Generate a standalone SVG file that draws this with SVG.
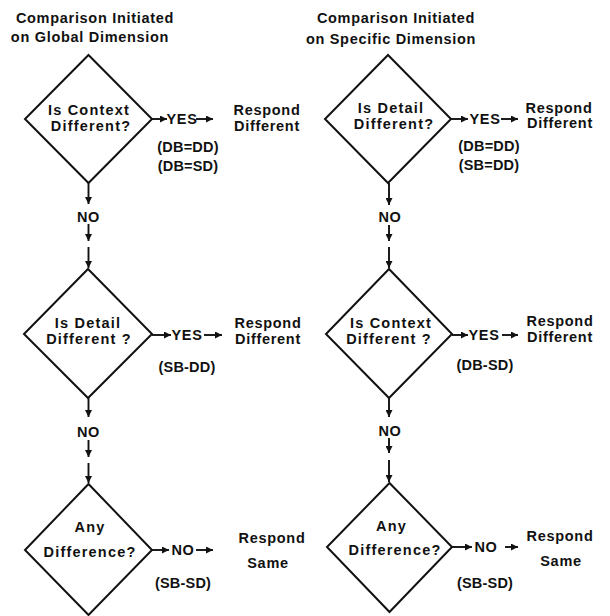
<svg xmlns="http://www.w3.org/2000/svg" width="610" height="616" viewBox="0 0 610 616">
<style>
text{font-family:"Liberation Sans",Arial,sans-serif;font-weight:bold;font-size:14.5px;fill:#111;text-anchor:middle;letter-spacing:0.7px}
.d{letter-spacing:1.2px}
.p{letter-spacing:0.2px}
.dia{fill:none;stroke:#111;stroke-width:2;stroke-linejoin:miter}
.c{fill:none;stroke:#111;stroke-width:1.9}
</style>
<defs>
<marker id="ah" markerUnits="userSpaceOnUse" markerWidth="8" markerHeight="7" refX="7" refY="3.5" orient="auto">
<path d="M0,0 L7,3.5 L0,7 Z" fill="#111"/>
</marker>
</defs>
<rect width="610" height="616" fill="#fff"/>

<g id="title-left"><text x="95" y="23">Comparison Initiated</text><text x="90" y="42">on Global Dimension</text></g>
<g id="title-right"><text x="396" y="23">Comparison Initiated</text><text x="391" y="44">on Specific Dimension</text></g>

<g id="L1"><polygon class="dia" points="88.5,55 152,119 88.5,183 25,119"/><text class="d" x="89" y="115">Is Context</text><text class="d" x="91" y="131">Different?</text></g>
<g id="L2"><polygon class="dia" points="88,269 152,334 88,398 24,334"/><text class="d" x="88" y="328">Is Detail</text><text class="d" x="89" y="344">Different ?</text></g>
<g id="L3"><polygon class="dia" points="88.5,484 152,550 88.5,615 25,550"/><text class="d" x="90" y="532">Any</text><text class="d" x="90" y="557">Difference?</text></g>

<g id="R1"><polygon class="dia" points="388,55 451,119 388,183 325,119"/><text class="d" x="391" y="113">Is Detail</text><text class="d" x="394" y="129">Different?</text></g>
<g id="R2"><polygon class="dia" points="389,269 452,334 389,398 326,334"/><text class="d" x="391" y="328">Is Context</text><text class="d" x="389" y="344">Different ?</text></g>
<g id="R3"><polygon class="dia" points="389.5,483 452,547 389.5,612 327,547"/><text class="d" x="391.5" y="531">Any</text><text class="d" x="395" y="555">Difference?</text></g>

<g id="L1-resp"><text x="267" y="115">Respond</text><text x="267" y="131">Different</text></g>
<g id="L2-resp"><text x="268" y="328">Respond</text><text x="268" y="344">Different</text></g>
<g id="L3-resp"><text x="272" y="543">Respond</text><text x="268" y="568">Same</text></g>
<g id="R1-resp"><text x="559" y="113">Respond</text><text x="560" y="128">Different</text></g>
<g id="R2-resp"><text x="560" y="326">Respond</text><text x="560" y="342">Different</text></g>
<g id="R3-resp"><text x="560" y="541">Respond</text><text x="561" y="566">Same</text></g>

<g id="connectors">
<line class="c" x1="88.5" y1="183" x2="88.5" y2="204" marker-end="url(#ah)"/>
<line class="c" x1="88.5" y1="224" x2="88.5" y2="241" marker-end="url(#ah)"/>
<line class="c" x1="88.5" y1="247" x2="88.5" y2="268" marker-end="url(#ah)"/>
<line class="c" x1="88.5" y1="398" x2="88.5" y2="417" marker-end="url(#ah)"/>
<line class="c" x1="88.5" y1="440" x2="88.5" y2="457" marker-end="url(#ah)"/>
<line class="c" x1="88.5" y1="463" x2="88.5" y2="483" marker-end="url(#ah)"/>

<line class="c" x1="389" y1="183" x2="389" y2="205" marker-end="url(#ah)"/>
<line class="c" x1="389" y1="225" x2="389" y2="241" marker-end="url(#ah)"/>
<line class="c" x1="389" y1="247" x2="389" y2="268" marker-end="url(#ah)"/>
<line class="c" x1="389" y1="398" x2="389" y2="417" marker-end="url(#ah)"/>
<line class="c" x1="389" y1="438" x2="389" y2="453" marker-end="url(#ah)"/>
<line class="c" x1="389" y1="460" x2="389" y2="482" marker-end="url(#ah)"/>

<line class="c" x1="152" y1="119" x2="167" y2="119" marker-end="url(#ah)"/>
<line class="c" x1="196" y1="119" x2="213" y2="119" marker-end="url(#ah)"/>
<line class="c" x1="152" y1="335" x2="171" y2="335" marker-end="url(#ah)"/>
<line class="c" x1="204" y1="335" x2="222" y2="335" marker-end="url(#ah)"/>
<line class="c" x1="152" y1="550" x2="169" y2="550" marker-end="url(#ah)"/>
<line class="c" x1="196" y1="550" x2="213" y2="550" marker-end="url(#ah)"/>

<line class="c" x1="451" y1="119" x2="468" y2="119" marker-end="url(#ah)"/>
<line class="c" x1="501" y1="119" x2="518" y2="119" marker-end="url(#ah)"/>
<line class="c" x1="452" y1="335" x2="468" y2="335" marker-end="url(#ah)"/>
<line class="c" x1="502" y1="335" x2="518" y2="335" marker-end="url(#ah)"/>
<line class="c" x1="452" y1="547" x2="472" y2="547" marker-end="url(#ah)"/>
<line class="c" x1="505" y1="547" x2="518" y2="547" marker-end="url(#ah)"/>

<text x="88.5" y="222">NO</text>
<text x="88.5" y="437">NO</text>
<text x="390" y="222">NO</text>
<text x="390" y="436">NO</text>

<text x="182" y="124">YES</text>
<text class="p" x="188" y="152">(DB=DD)</text>
<text class="p" x="188" y="171">(DB=SD)</text>
<text x="187" y="340">YES</text>
<text class="p" x="187" y="372">(SB-DD)</text>
<text x="183" y="555">NO</text>
<text class="p" x="183" y="588">(SB-SD)</text>

<text x="485" y="124">YES</text>
<text class="p" x="489" y="151">(DB=DD)</text>
<text class="p" x="489" y="170">(SB=DD)</text>
<text x="484" y="340">YES</text>
<text class="p" x="485" y="370">(DB-SD)</text>
<text x="486" y="552">NO</text>
<text class="p" x="485" y="588">(SB-SD)</text>
</g>
</svg>
